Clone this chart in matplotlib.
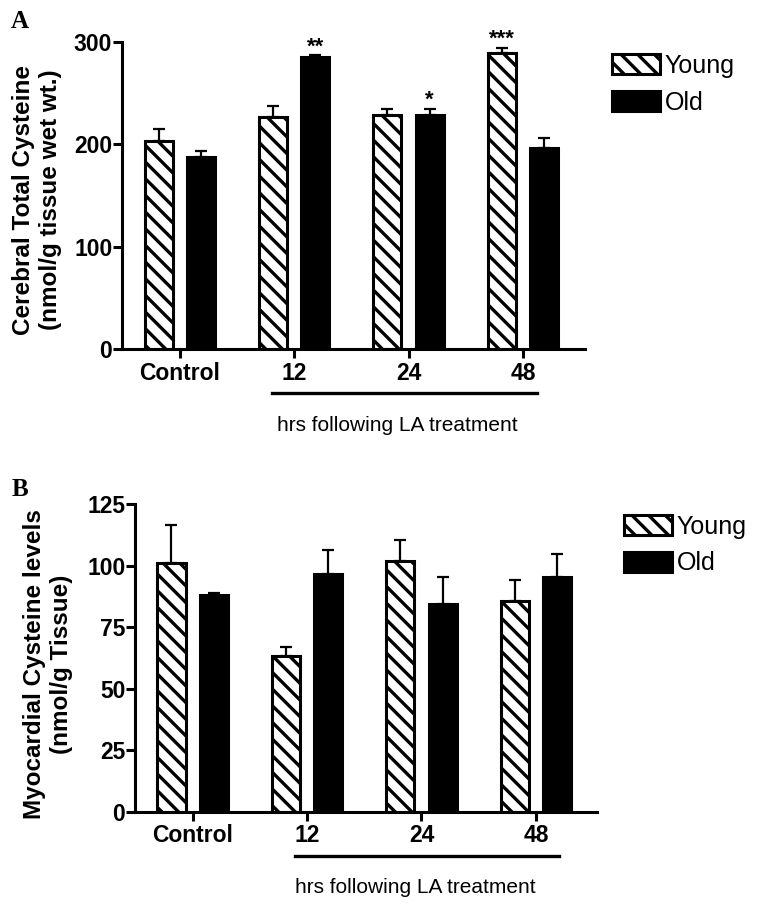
import numpy as np
import matplotlib
matplotlib.use("Agg")
import matplotlib.pyplot as plt
from matplotlib.patches import Patch
from matplotlib.lines import Line2D

plt.rcParams['font.family'] = ['Liberation Sans', 'DejaVu Sans']
plt.rcParams['hatch.linewidth'] = 2.4

# --- data ---
groups = ['Control', '12', '24', '48']

cer_young = [203, 227, 229, 289]
cer_young_err = [12, 10, 6, 5]
cer_old = [188, 285, 229, 196]
cer_old_err = [5, 2, 6, 10]
cer_stars_young = ['', '', '', '***']
cer_stars_old = ['', '**', '*', '']

myo_young = [101, 63.5, 101.7, 85.8]
myo_young_err = [15.5, 3.6, 8.8, 8.5]
myo_old = [88, 96.5, 84.5, 95.3]
myo_old_err = [1, 9.7, 11, 9.5]

W, H = 757, 908
fig = plt.figure(figsize=(W / 100, H / 100), dpi=100)


def px_axes(left, right, top, bottom):
    return fig.add_axes([left / W, 1 - bottom / H, (right - left) / W, (bottom - top) / H])


def draw_panel(ax, young, young_err, old, old_err, ymax, yticks, xlim,
               stars_young=None, stars_old=None, star_gap=3):
    x = np.arange(len(groups))
    off, bw = 0.185, 0.245
    zeros = np.zeros(len(groups))
    ax.errorbar(x - off, young, yerr=[zeros, young_err], fmt='none', ecolor='black',
                elinewidth=1.6, capsize=4.3, capthick=1.6, zorder=1)
    ax.errorbar(x + off, old, yerr=[zeros, old_err], fmt='none', ecolor='black',
                elinewidth=1.6, capsize=4.3, capthick=1.6, zorder=1)
    ax.bar(x - off, young, bw, color='white', edgecolor='black', hatch='\\\\',
           linewidth=2.2, zorder=2)
    ax.bar(x + off, old, bw, color='black', edgecolor='black', linewidth=2.2, zorder=2)

    if stars_young:
        for i, s in enumerate(stars_young):
            if s:
                ax.text(x[i] - off, young[i] + young_err[i] + star_gap, s, ha='center',
                        va='baseline', fontsize=16, fontweight='bold', clip_on=False)
    if stars_old:
        for i, s in enumerate(stars_old):
            if s:
                ax.text(x[i] + off, old[i] + old_err[i] + star_gap, s, ha='center',
                        va='baseline', fontsize=16, fontweight='bold', clip_on=False)

    ax.set_xlim(*xlim)
    ax.set_ylim(0, ymax)
    ax.set_yticks(yticks)
    ax.set_xticks(x)
    ax.set_xticklabels(groups)
    for sp in ['top', 'right']:
        ax.spines[sp].set_visible(False)
    for sp in ['left', 'bottom']:
        ax.spines[sp].set_linewidth(2.2)
    ax.tick_params(axis='both', direction='out', length=6.5, width=2.2, labelsize=16.5)
    ax.tick_params(axis='y', pad=0.5)
    ax.tick_params(axis='x', pad=2.5)
    for lab in ax.get_xticklabels() + ax.get_yticklabels():
        lab.set_fontweight('bold')


def legend_at(left, top):
    handles = [Patch(facecolor='white', edgecolor='black', hatch='\\\\', linewidth=2.2),
               Patch(facecolor='black', edgecolor='black', linewidth=2.2)]
    fig.legend(handles, ['Young', 'Old'], loc='upper left',
               bbox_to_anchor=(left / W, 1 - top / H), frameon=False,
               fontsize=18, handlelength=1.9, handleheight=0.85,
               handletextpad=0.2, labelspacing=0.5, borderpad=0, borderaxespad=0)


# --- Panel A ---
axA = px_axes(122, 585, 42, 349)
draw_panel(axA, cer_young, cer_young_err, cer_old, cer_old_err, 300, [0, 100, 200, 300],
           (-0.507, 3.543), cer_stars_young, cer_stars_old)
fig.text(37 / W, 1 - 200 / H, 'Cerebral Total Cysteine\n(nmol/g tissue wet wt.)',
         rotation=90, ha='center', va='center', fontsize=17.5, fontweight='bold',
         multialignment='center')
axA.add_line(Line2D([0.805, 3.12], [-0.143, -0.143], color='black', lw=2.4,
                    transform=axA.get_xaxis_transform(), clip_on=False))
axA.text(1.9, -0.25, 'hrs following LA treatment', transform=axA.get_xaxis_transform(),
         ha='center', va='center', fontsize=15)
fig.text(20 / W, 1 - 22 / H, 'A', family='Liberation Serif', fontweight='bold',
         fontsize=18, ha='center', va='center')
legend_at(612, 54)

# --- Panel B ---
axB = px_axes(135, 597, 504, 812)
draw_panel(axB, myo_young, myo_young_err, myo_old, myo_old_err, 125,
           [0, 25, 50, 75, 100, 125], (-0.504, 3.534))
fig.text(48 / W, 1 - 664 / H, 'Myocardial Cysteine levels\n(nmol/g Tissue)',
         rotation=90, ha='center', va='center', fontsize=17.5, fontweight='bold',
         multialignment='center')
axB.add_line(Line2D([0.894, 3.2], [-0.143, -0.143], color='black', lw=2.4,
                    transform=axB.get_xaxis_transform(), clip_on=False))
axB.text(1.95, -0.244, 'hrs following LA treatment', transform=axB.get_xaxis_transform(),
         ha='center', va='center', fontsize=15)
fig.text(20 / W, 1 - 490 / H, 'B', family='Liberation Serif', fontweight='bold',
         fontsize=18, ha='center', va='center')
legend_at(624, 515)

fig.savefig('out.png', dpi=100)
